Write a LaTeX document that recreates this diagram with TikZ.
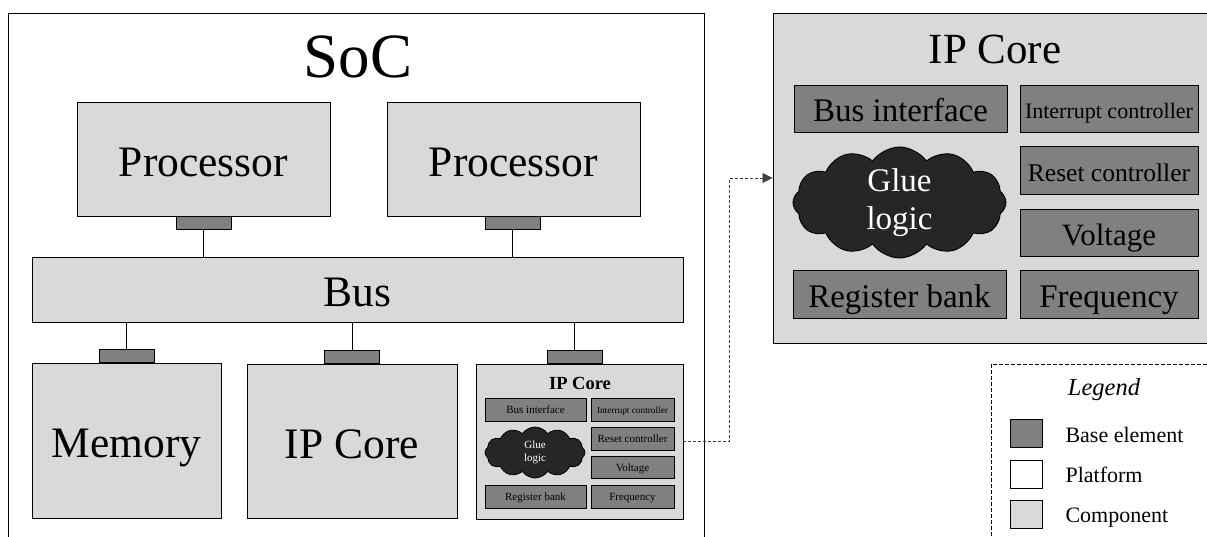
\documentclass[tikz,border=0pt]{standalone}
\usepackage{fontspec}
\setmainfont{Liberation Serif}
\usetikzlibrary{shapes.symbols,arrows.meta,positioning}
\definecolor{compgray}{RGB}{217,217,217}
\definecolor{basegray}{RGB}{128,128,128}
\definecolor{gluegray}{RGB}{38,38,38}
\newcommand{\fsize}[2]{\fontsize{#1}{#2}\selectfont}
\tikzstyle{component} = [draw, fill=compgray, line width=0.9pt, inner sep=0pt]
\tikzstyle{baseelem} = [draw, fill=basegray, line width=0.9pt, inner sep=0pt]
\tikzstyle{port} = [baseelem, minimum width=55pt, minimum height=13pt]
\tikzstyle{bigblock} = [component, font=\fsize{43.5}{50}, text height=34pt, text depth=0pt]
\tikzstyle{smallbase} = [baseelem, line width=0.8pt, minimum height=23pt, font=\fsize{11}{13}, text height=8.5pt, text depth=0pt]
\tikzstyle{bigbase} = [baseelem, minimum height=47.5pt, font=\fsize{33}{38}, text height=25pt, text depth=0pt]
\tikzstyle{glue} = [cloud, cloud puffs=12, cloud puff arc=110, draw, fill=gluegray, line width=0.9pt, inner sep=0pt]
\tikzstyle{gluetext} = [text=white, align=center]
\tikzstyle{legendtext} = [anchor=base west, font=\fsize{22}{26}]

\begin{document}
\begin{tikzpicture}[x=1pt,y=-1pt]
		\useasboundingbox (0,0) rectangle (1207,536);
		% SoC platform
		\draw [line width=0.9pt] (8,13) rectangle (704,560);
		\node [anchor=base, font=\fsize{63}{70}] (soc) at (358,77) {SoC};

		\node [bigblock, minimum width=253pt, minimum height=114pt] (proc1) at (203.5,159) {Processor};
		\node [bigblock, minimum width=253pt, minimum height=114pt] (proc2) at (513.5,159) {Processor};
		\node [port, below=0pt of proc1] (proc1port) {};
		\node [port, below=0pt of proc2, xshift=-1pt] (proc2port) {};

		\node [bigblock, minimum width=651pt, minimum height=65pt] (bus) at (357.5,289.5) {Bus};

		\node [bigblock, minimum width=189pt, minimum height=155pt] (mem) at (126.5,440.5) {Memory};
		\node [bigblock, minimum width=210pt, minimum height=154pt] (ipcore) at (352,441) {IP Core};
		\node [component, minimum width=207pt, minimum height=155pt] (sipcore) at (579.5,441.5) {};
		\node [port, above=0pt of mem] (memport) {};
		\node [port, above=0pt of ipcore] (ipport) {};
		\node [port, above=0pt of sipcore, xshift=-5pt] (sipport) {};

		\draw [line width=0.9pt] (proc1port.south) -- (proc1port.south |- bus.north);
		\draw [line width=0.9pt] (proc2port.south) -- (proc2port.south |- bus.north);
		\draw [line width=0.9pt] (memport.north) -- (memport.north |- bus.south);
		\draw [line width=0.9pt] (ipport.north) -- (ipport.north |- bus.south);
		\draw [line width=0.9pt] (sipport.north) -- (sipport.north |- bus.south);

		% small IP core
		\node [anchor=base, font=\bfseries\fsize{18.5}{22}] (stitle) at (580,389) {IP Core};
		\node [smallbase, minimum width=101pt] (sbus) at (535.5,409.5) {Bus interface};
		\node [smallbase, minimum width=83pt, font=\fsize{9.3}{11}, text height=7.5pt] (sirq) at (632.5,409.5) {Interrupt controller};
		\node [glue, minimum width=100pt, minimum height=51pt, line width=0.8pt] (sglue) at (535,452.5) {};
		\node [gluetext, font=\fsize{11}{13}] at (sglue) {Glue\\logic};
		\node [smallbase, minimum width=83pt] (sreset) at (632.5,438.5) {Reset controller};
		\node [smallbase, minimum width=83pt, minimum height=22pt] (svolt) at (632.5,467) {Voltage};
		\node [smallbase, minimum width=101pt] (sreg) at (535.5,496.5) {Register bank};
		\node [smallbase, minimum width=83pt] (sfreq) at (632.5,496.5) {Frequency};

		% big IP core
		\node [component, minimum width=444pt, minimum height=330pt] (bipcore) at (995,178) {};
		\node [anchor=base, font=\fsize{43}{50}] (btitle) at (995,63) {IP Core};
		\node [bigbase, minimum width=213pt] (bbus) at (900.5,109) {Bus interface};
		\node [bigbase, minimum width=178pt, font=\fsize{22}{26}, text height=18pt] (birq) at (1109,109) {Interrupt controller};
		\node [glue, minimum width=213pt, minimum height=111pt] (bglue) at (899.5,202.5) {};
		\node [gluetext, font=\fsize{33}{38}] at (bglue) {Glue\\logic};
		\node [bigbase, minimum width=178pt, font=\fsize{25.5}{30}, text height=22pt] (breset) at (1109,170.5) {Reset controller};
		\node [bigbase, minimum width=178pt, font=\fsize{31}{36}, text height=24pt] (bvolt) at (1109,233) {Voltage};
		\node [bigbase, minimum width=213pt] (breg) at (899.5,294.5) {Register bank};
		\node [bigbase, minimum width=178pt] (bfreq) at (1109,294.5) {Frequency};

		\draw [dashed, dash pattern=on 3pt off 2pt, black!75, line width=0.8pt, -{Triangle[length=10pt,width=10pt]}]
			(sipcore.east) -- ++(46,0) |- (bipcore.west);

		% legend
		\draw [dashed, dash pattern=on 4pt off 2pt, line width=0.9pt] (991,364) rectangle (1215,560);
		\node [anchor=base, font=\itshape\fsize{24.5}{28}] (legend) at (1104,395) {Legend};
		\node [baseelem, minimum width=32pt, minimum height=28pt] (lbase) at (1026,433) {};
		\node [draw, fill=white, line width=0.9pt, minimum width=32pt, minimum height=28pt] (lplat) at (1026,474) {};
		\node [component, minimum width=32pt, minimum height=28pt] (lcomp) at (1026,514.5) {};
		\node [legendtext] (lbasetext) at (1062,442) {Base element};
		\node [legendtext] (lplattext) at (1062,482) {Platform};
		\node [legendtext] (lcomptext) at (1062,522) {Component};
\end{tikzpicture}
\end{document}
